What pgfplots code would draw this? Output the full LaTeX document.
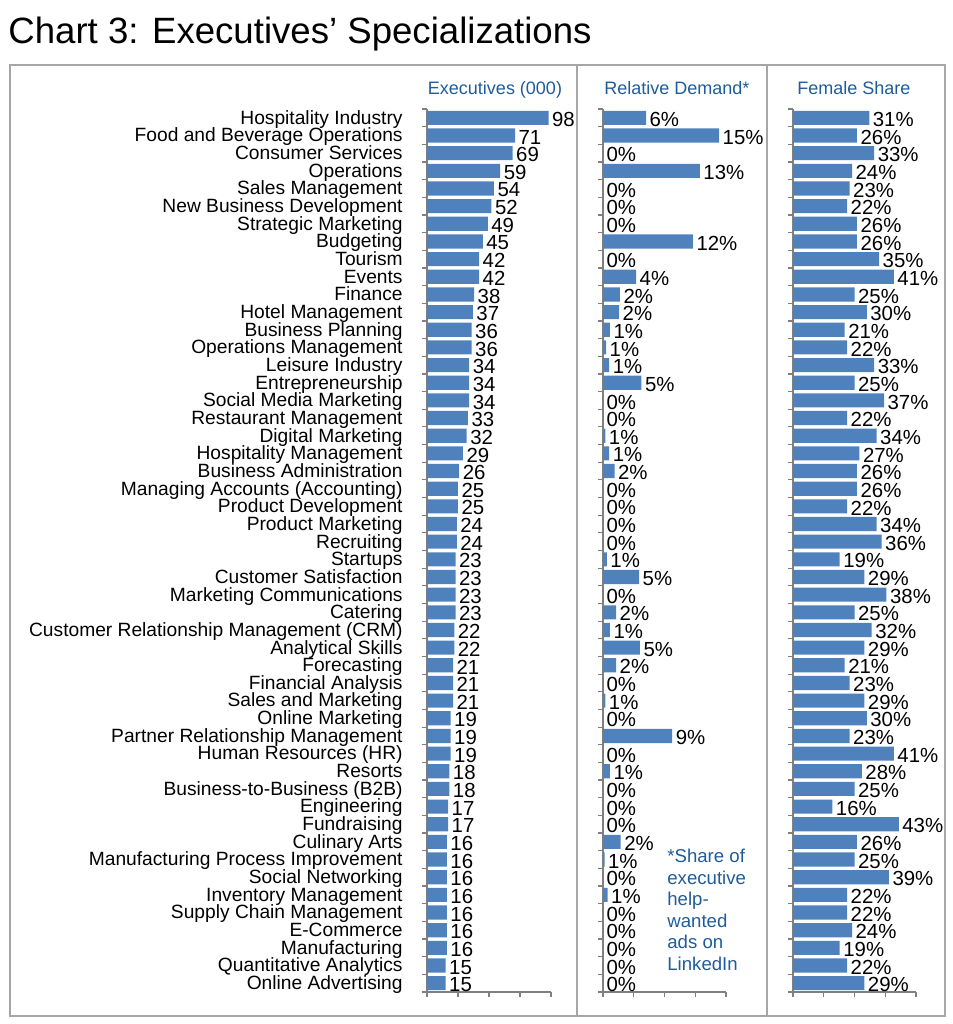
\documentclass[border=0pt]{standalone}
\usepackage{pgfplots}
\pgfplotsset{compat=1.18}
\usepackage{pgfplotstable}
\usepackage{fontspec}
\setmainfont{Liberation Sans}

\definecolor{barblue}{RGB}{79,129,189}
\definecolor{hdrblue}{RGB}{31,92,153}
\definecolor{framegray}{RGB}{166,166,166}

% idx, executives (000), relative demand (bar length, shown label), female share
\pgfplotstableread{
idx exec dem demlab fem
0 98 5.6 6 31
1 71 15.1 15 26
2 69 0 0 33
3 59 12.6 13 24
4 54 0 0 23
5 52 0 0 22
6 49 0 0 26
7 45 11.7 12 26
8 42 0 0 35
9 42 4.3 4 41
10 38 2.2 2 25
11 37 2.1 2 30
12 36 0.9 1 21
13 36 0.4 1 22
14 34 0.8 1 33
15 34 5.0 5 25
16 34 0 0 37
17 33 0 0 22
18 32 0.3 1 34
19 29 0.8 1 27
20 26 1.5 2 26
21 25 0 0 26
22 25 0 0 22
23 24 0 0 34
24 24 0 0 36
25 23 0.5 1 19
26 23 4.7 5 29
27 23 0 0 38
28 23 1.7 2 25
29 22 0.9 1 32
30 22 4.8 5 29
31 21 1.7 2 21
32 21 0 0 23
33 21 0.3 1 29
34 19 0 0 30
35 19 9.0 9 23
36 19 0 0 41
37 18 0.9 1 28
38 18 0 0 25
39 17 0 0 16
40 17 0 0 43
41 16 2.3 2 26
42 16 0.2 1 25
43 16 0 0 39
44 16 0.6 1 22
45 16 0 0 22
46 16 0 0 24
47 16 0 0 19
48 15 0 0 22
49 15 0 0 29
}\specs

\pgfplotsset{
  panel/.style={
    scale only axis,
    height=441.5pt,
    anchor=south west,
    xbar,
    bar width=0.8,
    y dir=reverse,
    ymin=-0.5, ymax=49.5,
    xmin=0,
    enlargelimits=false,
    axis x line*=bottom,
    axis y line*=left,
    axis line style={draw=gray, line width=0.6pt},
    ytick={-0.5,0.5,...,49.5},
    yticklabels={},
    xticklabels={},
    major tick length=2.5pt,
    tick align=outside,
    tick style={gray, line width=0.6pt},
    clip=false,
    /pgf/number format/assume math mode=true,
    nodes near coords,
    every node near coord/.append style={font=\fontsize{10.2}{12}\selectfont,
      text=black, inner sep=1.6pt, anchor=west, yshift=-0.8pt},
  },
}

\begin{document}
\begin{tikzpicture}
\path[use as bounding box] (0,0) rectangle (476.5pt,512pt);

\node[anchor=base west, inner sep=0pt, font=\fontsize{18.3}{22}\selectfont]
  at (4pt,490pt) {Chart 3: Executives’ Specializations};

\draw[framegray, line width=1pt] (5pt,4pt) rectangle (472.5pt,479.5pt);
\draw[framegray, line width=1pt] (288.5pt,4pt) -- (288.5pt,479.5pt);
\draw[framegray, line width=1pt] (383.5pt,4pt) -- (383.5pt,479.5pt);

\begin{scope}[every node/.style={text=hdrblue, anchor=base, font=\fontsize{9}{11}\selectfont}]
\node at (247.5pt,464.5pt) {Executives (000)};
\node at (338.5pt,464.5pt) {Relative Demand*};
\node at (427pt,464.5pt) {Female Share};
\end{scope}

% panel 1: executives
\begin{axis}[panel,
  at={(213.5pt,16pt)}, width=62pt,
  xmax=100, xtick={0,25,50,75,100},
  typeset ticklabels with strut,
  yticklabel style={font=\fontsize{9.6}{11}\selectfont, anchor=east, inner sep=0pt,
    xshift=-9.5pt, yshift=-5.4pt},
  yticklabels={Hospitality Industry,Food and Beverage Operations,Consumer Services,Operations,Sales Management,New Business Development,Strategic Marketing,Budgeting,Tourism,Events,Finance,Hotel Management,Business Planning,Operations Management,Leisure Industry,Entrepreneurship,Social Media Marketing,Restaurant Management,Digital Marketing,Hospitality Management,Business Administration,Managing Accounts (Accounting),Product Development,Product Marketing,Recruiting,Startups,Customer Satisfaction,Marketing Communications,Catering,Customer Relationship Management (CRM),Analytical Skills,Forecasting,Financial Analysis,Sales and Marketing,Online Marketing,Partner Relationship Management,Human Resources (HR),Resorts,Business-to-Business (B2B),Engineering,Fundraising,Culinary Arts,Manufacturing Process Improvement,Social Networking,Inventory Management,Supply Chain Management,E-Commerce,Manufacturing,Quantitative Analytics,Online Advertising,{}},
  point meta=x,
  nodes near coords={\pgfmathprintnumber{\pgfplotspointmeta}},
]
\addplot[fill=barblue, draw=none] table[x=exec, y=idx] {\specs};
\end{axis}

% panel 2: relative demand
\begin{axis}[panel,
  at={(301.5pt,16pt)}, width=61.5pt,
  xmax=16, xtick={0,4,8,12,16},
  point meta=explicit,
  nodes near coords={\pgfmathprintnumber{\pgfplotspointmeta}\%},
]
\addplot[fill=barblue, draw=none] table[x=dem, y=idx, meta=demlab] {\specs};
\end{axis}

\node[anchor=north west, align=left, inner sep=0pt, text=hdrblue,
  font=\fontsize{9.3}{10.75}\selectfont] at (333.5pt,87.5pt)
  {*Share of\\executive\\help-\\wanted\\ads on\\LinkedIn};

% panel 3: female share
\begin{axis}[panel,
  at={(396.5pt,16pt)}, width=61.5pt,
  xmax=50, xtick={0,12.5,25,37.5,50},
  point meta=x,
  nodes near coords={\pgfmathprintnumber{\pgfplotspointmeta}\%},
]
\addplot[fill=barblue, draw=none] table[x=fem, y=idx] {\specs};
\end{axis}
\end{tikzpicture}
\end{document}
